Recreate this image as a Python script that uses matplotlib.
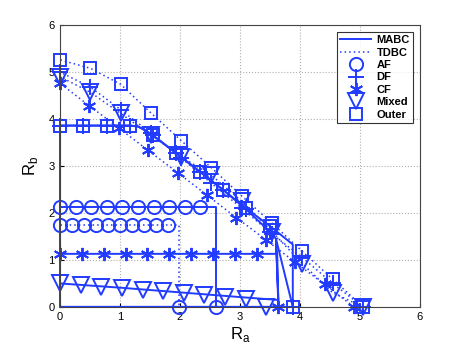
import numpy as np
import matplotlib
matplotlib.use('Agg')
import matplotlib.pyplot as plt
from matplotlib.lines import Line2D

plt.rcParams['font.family'] = ['Liberation Sans', 'DejaVu Sans']

blue = (0.13, 0.23, 1.0)

# ---- MABC (solid) ----
af_m_line_x = [0, 0, 2.6, 2.6, 0]
af_m_line_y = [0, 2.12, 2.12, 0, 0]
af_m_mk_x = [0, 0.26, 0.52, 0.78, 1.04, 1.3, 1.56, 1.82, 2.08, 2.34, 2.6]
af_m_mk_y = [2.12, 2.12, 2.12, 2.12, 2.12, 2.12, 2.12, 2.12, 2.12, 2.12, 0]

cf_m_line_x = [0, 0, 3.62, 3.64, 0]
cf_m_line_y = [0, 1.13, 1.13, 0, 0]
cf_m_mk_x = [0, 0.364, 0.728, 1.092, 1.456, 1.82, 2.184, 2.548, 2.912, 3.276, 3.64]
cf_m_mk_y = [1.13, 1.13, 1.13, 1.13, 1.13, 1.13, 1.13, 1.13, 1.13, 1.13, 0]

mix_m_line_x = [0, 0, 1.0, 2.0, 3.0, 3.62, 3.64, 3.6, 3.64, 0]
mix_m_line_y = [0, 0.5, 0.41, 0.31, 0.21, 0.15, 0.15, 1.45, 0, 0]
mix_m_mk_x = [0, 0.344, 0.688, 1.032, 1.376, 1.72, 2.064, 2.408, 2.752, 3.096, 3.44]
mix_m_mk_y = [0.5, 0.47, 0.43, 0.4, 0.36, 0.33, 0.29, 0.26, 0.22, 0.17, 0]

out_m_line_x = [0, 0, 1.17, 1.3, 1.42, 1.55, 1.94, 2.33, 2.72, 3.1, 3.5, 3.88, 3.88, 0]
out_m_line_y = [0, 3.86, 3.86, 3.84, 3.76, 3.65, 3.27, 2.88, 2.49, 2.1, 1.72, 1.33, 0, 0]
out_m_mk_x = [0, 0.39, 0.78, 1.17, 1.55, 1.94, 2.33, 2.72, 3.1, 3.5, 3.88]
out_m_mk_y = [3.86, 3.86, 3.86, 3.86, 3.65, 3.27, 2.88, 2.49, 2.1, 1.72, 0]

df_m_line_x = [0, 0, 1.17, 1.3, 1.42, 1.55, 1.94, 2.33, 2.72, 3.1, 3.5, 3.6, 3.88, 0]
df_m_line_y = [0, 3.86, 3.86, 3.84, 3.76, 3.65, 3.27, 2.88, 2.49, 2.08, 1.6, 1.45, 0, 0]
df_m_mk_x = [0, 0.39, 0.78, 1.17, 1.55, 1.94, 2.33, 2.72, 3.1, 3.5, 3.88]
df_m_mk_y = [3.86, 3.86, 3.86, 3.86, 3.65, 3.27, 2.88, 2.49, 2.08, 1.6, 0]

# ---- TDBC (dotted) ----
af_t_x = [0, 0.2, 0.4, 0.6, 0.8, 1.0, 1.2, 1.4, 1.6, 1.8, 1.98]
af_t_y = [1.74, 1.74, 1.74, 1.74, 1.74, 1.74, 1.74, 1.74, 1.74, 1.74, 0]

td_x = [0, 0.505, 1.01, 1.515, 2.02, 2.525, 3.03, 3.535, 4.04, 4.545, 5.05]
out_t_y = [5.26, 5.08, 4.74, 4.13, 3.54, 2.96, 2.36, 1.78, 1.18, 0.59, 0]
mix_t_y = [4.9, 4.57, 4.12, 3.66, 3.2, 2.8, 2.25, 1.6, 0.92, 0.3, 0]
df_t_y = [5.0, 4.68, 4.2, 3.7, 3.17, 2.63, 2.1, 1.55, 1.05, 0.5, 0]

cf_t_x = [0, 0.49, 0.98, 1.47, 1.96, 2.45, 2.94, 3.43, 3.92, 4.41, 4.9]
cf_t_y = [4.76, 4.28, 3.81, 3.33, 2.86, 2.38, 1.9, 1.43, 0.95, 0.48, 0]

fig = plt.figure(figsize=(4.63, 3.48), dpi=100)
ax = fig.add_axes([0.1296, 0.118, 0.7775, 0.81])

lw = 1.4
mew = 1.4
solid = dict(color=blue, lw=lw, ls='-')
dot = dict(color=blue, lw=1.1, ls=(0, (1, 2.0)))
mk = dict(color=blue, ls='none', mfc='none', mew=mew)

# MABC lines
ax.plot(af_m_line_x, af_m_line_y, clip_on=False, **solid)
ax.plot(cf_m_line_x, cf_m_line_y, clip_on=False, **solid)
ax.plot(mix_m_line_x, mix_m_line_y, clip_on=False, **solid)
ax.plot(out_m_line_x, out_m_line_y, clip_on=False, **solid)
ax.plot(df_m_line_x, df_m_line_y, clip_on=False, **solid)

# TDBC lines
ax.plot([0] + af_t_x[:-1] + [1.98, 1.98, 0], [0] + af_t_y[:-1] + [1.74, 0, 0], **dot)
for ys in (out_t_y, mix_t_y, df_t_y):
    ax.plot([0] + td_x, [0] + ys, **dot)
ax.plot([0] + cf_t_x, [0] + cf_t_y, **dot)

# markers
mkset = [
    (af_m_mk_x, af_m_mk_y, 'o', 9.5),
    (af_t_x, af_t_y, 'o', 9.5),
    (cf_m_mk_x, cf_m_mk_y, (6, 2, 0), 9.5),
    (cf_t_x, cf_t_y, (6, 2, 0), 9.5),
    (mix_m_mk_x, mix_m_mk_y, 'v', 11),
    (td_x, mix_t_y, 'v', 11),
    (out_m_mk_x, out_m_mk_y, 's', 8.5),
    (td_x, out_t_y, 's', 8.5),
    (df_m_mk_x, df_m_mk_y, '+', 11),
    (td_x, df_t_y, '+', 11),
]
for xs, ys, m, s in mkset:
    ax.plot(xs, ys, marker=m, ms=s, clip_on=False, **mk)

ax.set_xlim(0, 6)
ax.set_ylim(0, 6)
ax.set_xticks(range(7))
ax.set_yticks(range(7))
ax.grid(True, color='#b0b0b0', ls=':', lw=0.8)
ax.tick_params(direction='in', length=3, labelsize=8, pad=4)
for s in ax.spines.values():
    s.set_color('#444444')
    s.set_linewidth(0.8)
ax.set_xlabel(r'R$_\mathregular{a}$', fontsize=12, labelpad=2)
ax.set_ylabel(r'R$_\mathregular{b}$', fontsize=12, labelpad=6)

handles = [
    Line2D([], [], **solid),
    Line2D([], [], **dot),
    Line2D([], [], marker='o', ms=9.5, **mk),
    Line2D([], [], marker='+', ms=11, **mk),
    Line2D([], [], marker=(6, 2, 0), ms=9.5, **mk),
    Line2D([], [], marker='v', ms=11, **mk),
    Line2D([], [], marker='s', ms=8.5, **mk),
]
labels = ['MABC', 'TDBC', 'AF', 'DF', 'CF', 'Mixed', 'Outer']
leg = ax.legend(handles, labels, loc='upper right',
                prop={'weight': 'bold', 'size': 8}, frameon=True, fancybox=False,
                edgecolor='black', handlelength=2.8, labelspacing=0.22,
                borderpad=0.3, handletextpad=0.5, borderaxespad=0.6)
leg.get_frame().set_linewidth(0.8)

fig.savefig('out.png', dpi=100)
